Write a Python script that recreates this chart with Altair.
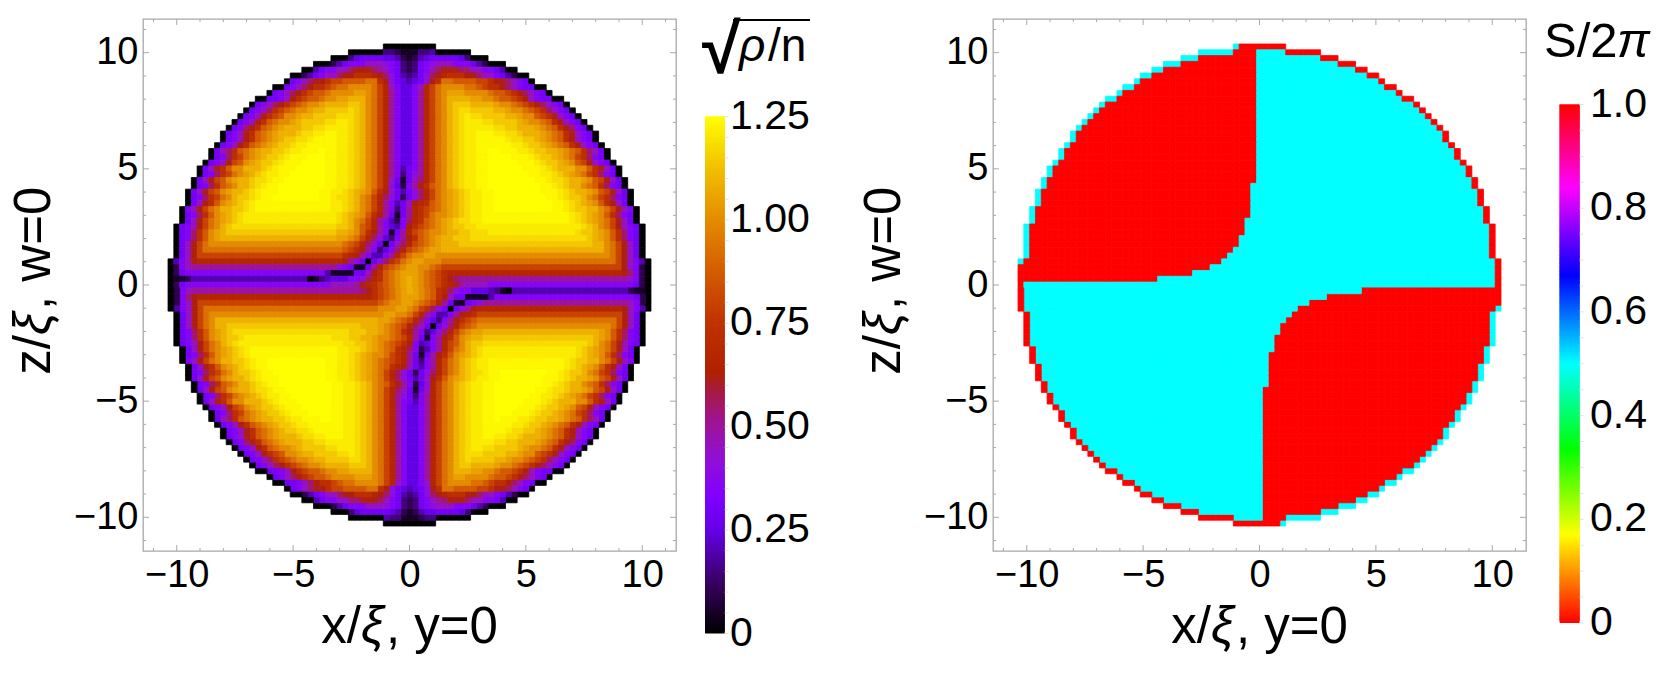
import altair as alt
import pandas as pd

alt.data_transformers.disable_max_rows()

# ---------- values ----------
ALPHABET = "0123456789abcdefghijklmnop"
LEVELS = [0,.05,.1,.15,.2,.25,.3,.35,.4,.45,.5,.55,.62,.67,.72,.8,.87,.93,1.0,1.05,1.09,1.14,1.18,1.21,1.235,1.25]
row_start = [37,31,28,25,23,21,20,18,17,15,14,13,12,11,10,9,9,8,7,7,6,5,5,4,4,3,3,3,2,2,2,1,1,1,1,1,1,0,0,0,0,0]

density_left = [
 "0000","0000003321","0003566665542","0002467779998763","00467799bcccba9763","00246799bcceeedcb864",
 "0679bcceffgggghhec865","00679bceefghhiiiihfd975","0679bcefgghiiiijjihfda75","006679cefgghiijjkkkihfda75",
 "0679bcefghiijkkkkllkihfda75","0679befghiijkkllllmlkihfda75","0679cefgiijkkllllmmmlkihfda75",
 "0679ceghiijkllllmmnnmlkihfda75","067bceghijkkkllmmnnnnmlkihfda75","0679ceghijkkklmmnnoonnmlkihfda75",
 "0679ceghijkllmmnoooonnmlkihfda75","0679ceghijkllmnnooooonnmlkihfda75","069beghijkkllmnnooopoonnmlkihfda75",
 "067befhijkllmnooopppoonnmlkihfda75","0679cfgijkllmnoooppppoonnmlkihfda75","069cegiikkklmnooopppppoonnmlkihfda74",
 "067befhijklmnnooppppppoonnmlkihfda73","069cfgijkklmmnoopppppppoonnmlkihfd961","067beghikklmnoo"+"p"*8+"oonnmlkihfd852",
 "069cfgijkklmnooo"+"p"*7+"oonnmlkjigec964","067befhikllmnoo"+"p"*8+"oonmmlkihfdb862","069cegijklmnoo"+"o"*9+"oonnmlkihfda746",
 "079cfhikkllmn"+"o"*13+"nnmlkihfda736","067begijklmn"+"n"*15+"mlkjigeca616","069cfhijklmn"+"n"*15+"mlkihfda7427",
 "0679cfhiklm"+"m"*17+"llkigfda7547","067begijkll"+"l"*17+"kkjigeca716a","067begijk"+"k"*19+"jjihfdb8537a",
 "069cfhi"+"i"*21+"ihgfdb86069b","069cfh"+"h"*22+"hgfeca7357bd","069cf"+"f"*23+"fedca7447adf","0479c"+"d"*25+"ca86068befh",
 "0279"+"a"*25+"876116adfghi","026"+"7"*24+"4"+"1111"+"669ceghij","0112"+"4"*20+"0134"+"555"+"778bdeghij",
 "026"+"7"*25+"9999"+"acdefghij",
]
density_right = [
 "00000","11334000000","12456666653000","23678999777642000","23679bcccbb99776400","3468bcdeeeccb99764200",
 "4568cehhggggffeccb9760","579dfhiiiihhgfeecb976600","57adfhijjjiiiihggfecb9760","57adfhikkkkjjiihggfec976600",
 "57adfhiklllkkkkjiihgfecb9760","57adfhiklmmllllkkjiihgfeb9760","57adfhiklmnmmllllkkjiigfec9760",
 "57adfhiklmnnnmmllllkjiihgec9760","57adfhiklmnnnnnmmllkkkjihgecb760","57adfhiklmnnooonnmmlkkkjihgec9760",
 "57adfhiklmnnooooonmmllkjihgec9760","57adfhiklmnnoooooonnmllkjihgec9760","57adfhiklmnnooppooonnmllkkjihgeb960",
 "57adfhiklmnnooppppooonmllkjihfeb760","57adfhiklmnnoopppppooonmllkjigfc9760","67adfhiklmnnooppppppooonmlkkkiigec960",
 "68adfhiklmnnoopppppppoonnmlkjihfeb760","69bdfhiklmnnooppppppppoonmmlkkjigfc960","7aceghiklmnnoo"+"p"*9+"oonmlkkihgeb760",
 "68bdfhijklmnnoo"+"p"*8+"ooonmlkkjigfc960","68bdfhijklmnnoo"+"p"*9+"oonmllkihfeb760","9cdeghijklmnnoo"+"p"*10+"oonmlkjigec960",
 "adefghijklmnnoo"+"p"*10+"oonmllkkihfc970","adefhiijklmnnoo"+"o"*11+"oonmlkjigeb760","bdeghijklmmnnoo"+"o"*11+"oonmlkjihfc960",
 "cefghijkllmmnnn"+"n"*14+"nmlkihfc9760","dfghiijkkllmmmn"+"n"*14+"mllkjigeb760","ceghijkklllmmmm"+"m"*15+"mlkjigeb760",
 "dfghijkkkllllll"+"l"*16+"lkkihfc960","fghijjk"+"k"*27+"ihfc960","hiijj"+"i"*30+"hfc960","ijjiii"+"h"*30+"fc9740",
 "jjiihg"+"f"*31+"c9720","jjihgfe"+"d"*30+"cb720","kjihgfecb"+"a"*29+"9720",
 "kjihgfedca"+"9999"+"7"*25+"620",
]
# phase: first red column, first cyan column of the interior, first column of the outer red rim
phase_red_start = [38,37,31,28,25,23,21,20,18,17,15,14,13,12,11,10,10,9,8,8,7,6,6,5,5,4,4,4,3,3,3,2,2,2,2,2,2,1,0,0,0,0]
phase_cyan_start = [45,41,41,41,41,41,41,41,41,41,41,41,41,41,41,41,41,41,41,41,41,41,41,41,40,40,40,40,40,40,39,39,39,38,38,37,36,35,33,30,24,1]
phase_rim_start = [45,46,52,55,58,60,62,63,65,66,68,69,70,71,72,73,73,74,75,75,76,77,77,78,78,79,79,79,80,80,80,81,81,81,81,81,81,82,82,82,82,82]

density_stops = [0,.12,.25,.33,.42,.52,.6,.63,.75,.875,1.0,1.125,1.25]
density_colors = ["#000000","#38005f","#6400e6","#8000ff","#9010d8","#a0148c","#a81c30","#b02000","#c03200","#d45c00","#e48c00","#f2c000","#ffff00"]
phase_stops = [0,.17,.335,.5,.67,.84,1]
phase_colors = ["#ff0000","#ffff00","#00ff00","#00ffff","#0000ff","#ff00ff","#ff0000"]

major_ticks = [-10,-5,0,5,10]
minor_ticks = [-11,-9,-8,-7,-6,-4,-3,-2,-1,1,2,3,4,6,7,8,9,11]
bar1_labels = [(0,"0"),(.25,"0.25"),(.5,"0.50"),(.75,"0.75"),(1.0,"1.00"),(1.25,"1.25")]
bar2_labels = [(0,"0"),(.2,"0.2"),(.4,"0.4"),(.6,"0.6"),(.8,"0.8"),(1.0,"1.0")]

FONT = "Liberation Sans"
W, H = 533, 532
TICK_FS, BAR_FS, TITLE_FS = 38, 41, 51
LIM = 11.45

# ---------- tables ----------
def cell(r, c, v):
    return {"x0": -10.375 + .25*c, "x1": -10.125 + .25*c, "z0": 10.375 - .25*r, "z1": 10.125 - .25*r, "v": v}

dens = {}
for r in range(42):
    L = row_start[r]; R = 82 - L
    for i, ch in enumerate(density_left[r]):
        dens[(r, L + i)] = LEVELS[ALPHABET.index(ch)]
    right = density_right[r]
    for i, ch in enumerate(right):
        dens[(r, R - len(right) + 1 + i)] = LEVELS[ALPHABET.index(ch)]
for (r, c), v in list(dens.items()):
    if r < 41:
        dens[(82 - r, 82 - c)] = v

phase = {}
for r in range(42):
    L = row_start[r]; R = 82 - L
    for c in range(L, R + 1):
        if c < phase_red_start[r]:
            v = .5
        elif c < phase_cyan_start[r]:
            v = 0.
        elif c < phase_rim_start[r]:
            v = .5
        else:
            v = 0.
        phase[(r, c)] = v
for (r, c), v in list(phase.items()):
    if r < 41:
        phase[(82 - r, 82 - c)] = v

dens_df = pd.DataFrame([cell(r, c, v) for (r, c), v in dens.items()])
phase_df = pd.DataFrame([cell(r, c, v) for (r, c), v in phase.items()])

# ---------- helpers ----------
xs = alt.Scale(domain=[-LIM, LIM], nice=False, zero=False)
ys = alt.Scale(domain=[-LIM, LIM], nice=False, zero=False)
GREY = "#a8a8a8"
AX = dict(values=major_ticks, ticks=False, domain=False, grid=False, labelFont=FONT, labelFontSize=TICK_FS,
          labelColor="black", labelPadding=5, title=None, format="d", labelOverlap=False)

def text(s, x, y, size=TITLE_FS, angle=0, align="left", style="normal", weight="normal"):
    return alt.Chart(pd.DataFrame({"t": [s]})).mark_text(
        font=FONT, fontSize=size, angle=angle, align=align, baseline="alphabetic", fontStyle=style,
        fontWeight=weight, color="black"
    ).encode(x=alt.value(x), y=alt.value(y), text="t:N")

def tick_layers():
    out = []
    xa, ya = alt.Axis(**AX), alt.Axis(**AX)
    for vals, ln in ((major_ticks, 6), (minor_ticks, 3)):
        d = pd.DataFrame({"t": vals})
        out.append(alt.Chart(d).mark_rule(color=GREY, strokeWidth=1).encode(
            x=alt.X("t:Q", scale=xs, axis=xa), y=alt.value(0), y2=alt.value(ln)))
        out.append(alt.Chart(d).mark_rule(color=GREY, strokeWidth=1).encode(
            x=alt.X("t:Q", scale=xs, axis=xa), y=alt.value(H), y2=alt.value(H - ln)))
        out.append(alt.Chart(d).mark_rule(color=GREY, strokeWidth=1).encode(
            y=alt.Y("t:Q", scale=ys, axis=ya), x=alt.value(0), x2=alt.value(ln)))
        out.append(alt.Chart(d).mark_rule(color=GREY, strokeWidth=1).encode(
            y=alt.Y("t:Q", scale=ys, axis=ya), x=alt.value(W), x2=alt.value(W - ln)))
    return out

def panel(df, stops, colors):
    cs = alt.Scale(domain=stops, range=colors, clamp=True, interpolate="rgb")
    rect = alt.Chart(df).mark_rect(strokeWidth=.8).encode(
        x=alt.X("x0:Q", scale=xs, axis=alt.Axis(**AX)), x2="x1:Q",
        y=alt.Y("z0:Q", scale=ys, axis=alt.Axis(**AX)), y2="z1:Q",
        color=alt.Color("v:Q", scale=cs, legend=None),
        stroke=alt.Stroke("v:Q", scale=cs, legend=None),
    )
    titles = [
        text("x/", 218, 624, align="right"), text("\u03be", 218, 624, style="italic"), text(", y=0", 243, 624),
        text("z/", -93, 316, angle=270, align="right"), text("\u03be", -93, 316, angle=270, style="italic"),
        text(", w=0", -93, 291, angle=270),
    ]
    return alt.layer(rect, *tick_layers(), *titles).properties(
        width=W, height=H, view=alt.ViewBackground(stroke=GREY, strokeWidth=1.3))

def colorbar(stops, colors, labels, width, height, top, bottom, x0, x1, lab_x, top_val, extras, step):
    cs = alt.Scale(domain=stops, range=colors, clamp=True, interpolate="rgb")
    y_s = alt.Scale(domain=[0, top_val], range=[bottom, top], nice=False, zero=False)
    n = 260
    lv = [top_val * i / n for i in range(n)]
    d = pd.DataFrame({"a": lv, "b": [min(top_val, v + 2.5 * top_val / n) for v in lv], "m": [v + top_val / (2 * n) for v in lv]})
    bar = alt.Chart(d).mark_rect().encode(
        x=alt.value(x0), x2=alt.value(x1),
        y=alt.Y("a:Q", scale=y_s, axis=None), y2="b:Q",
        color=alt.Color("m:Q", scale=cs, legend=None))
    t = pd.DataFrame({"t": [i * step for i in range(int(round(top_val / step)) + 1)]})
    ticks = alt.Chart(t).mark_rule(color="#e2e2e2", strokeWidth=1).encode(
        x=alt.value(x1), x2=alt.value(x1 + 4), y=alt.Y("t:Q", scale=y_s, axis=None))
    lab = alt.Chart(pd.DataFrame(labels, columns=["v", "s"])).mark_text(
        font=FONT, fontSize=BAR_FS, align="left", baseline="middle", color="black").encode(
        x=alt.value(lab_x), y=alt.Y("v:Q", scale=y_s, axis=None), text="s:N")
    return alt.layer(bar, ticks, lab, *extras).properties(
        width=width, height=height, view=alt.ViewBackground(stroke="transparent", strokeWidth=0))

# ---------- titles of the colour bars ----------
vinc = alt.Chart(pd.DataFrame({"a": [1]})).mark_rule(color="black", strokeWidth=2).encode(
    x=alt.value(57), x2=alt.value(134), y=alt.value(1))
bar1_title = [
    text("\u221a", 26, 54, size=70, weight="bold"), vinc,
    text("\u03c1", 63, 42, size=46, style="italic"), text("/n", 92, 42, size=46),
]
bar2_title = [text("S/2", 18, 38, size=49), text("\u03c0", 91, 38, size=49, style="italic")]

left = panel(dens_df, density_stops, density_colors)
bar1 = colorbar(density_stops, density_colors, bar1_labels, 316.7, 620, 97.5, 614.5, 29, 48.7, 54, 1.25, bar1_title, .05)
right = panel(phase_df, phase_stops, phase_colors)
bar2 = colorbar(phase_stops, phase_colors, bar2_labels, 125, 610, 85.5, 604, 33.6, 53.6, 64, 1.0, bar2_title, .05)

chart = alt.hconcat(left, bar1, right, bar2, spacing=0, bounds="flush").resolve_scale(
    color="independent", stroke="independent"
).properties(
    padding={"left": 0, "top": 9, "right": 0, "bottom": 0}
).configure_view(stroke="transparent").configure(background="white")

chart.save("out.html", embed_options={"renderer": "svg", "actions": False})
